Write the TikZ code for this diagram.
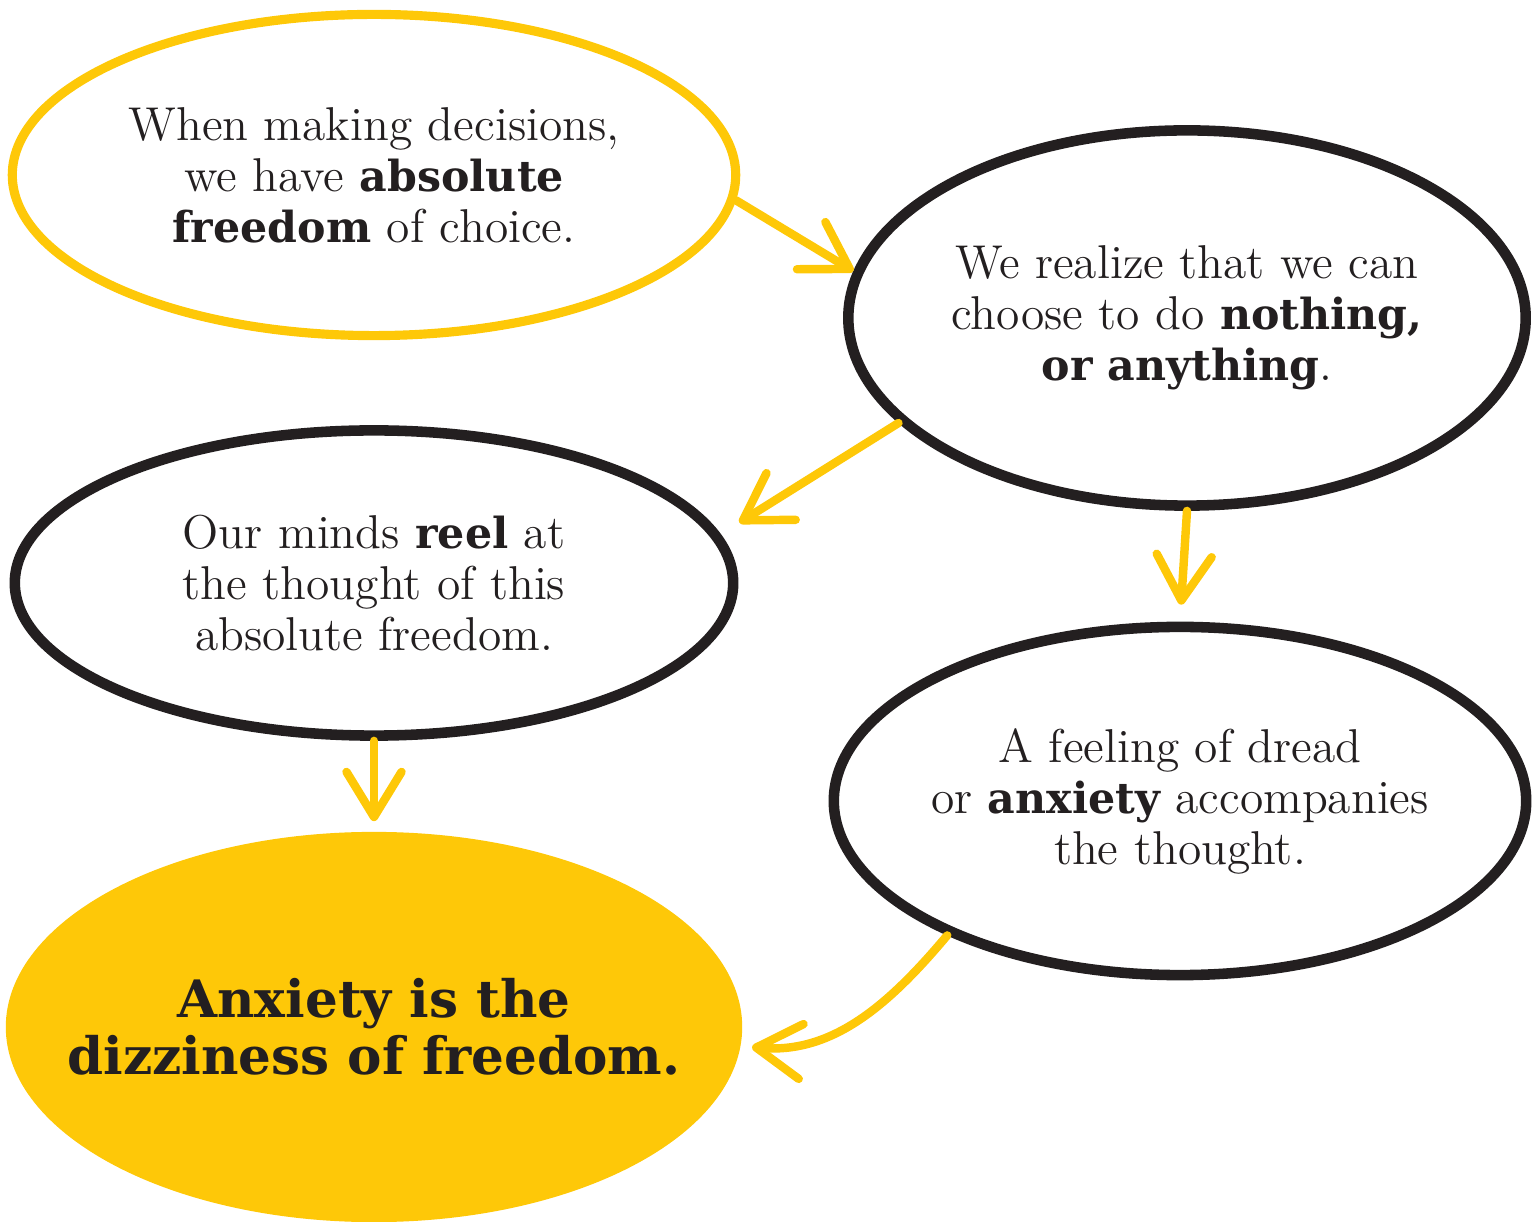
\documentclass[tikz,border=0pt]{standalone}
\usepackage{fontspec}
\newfontfamily\slab{DejaVu Serif}[Scale=0.9]
\usetikzlibrary{arrows.meta,shapes.geometric}
\definecolor{ink}{RGB}{35,31,32}
\definecolor{gold}{RGB}{254,200,8}
\newcommand{\hv}[1]{{\slab\bfseries #1}}

\begin{document}
\begin{tikzpicture}[
    x=0.01cm,y=-0.01cm,
    every node/.style={font=\fontsize{13.5}{14.5}\selectfont,text=ink,align=center,inner sep=0pt},
    bubble/.style={ellipse,draw=ink,line width=3pt},
    goldbubble/.style={ellipse,draw=gold,line width=2.6pt},
    answer/.style={ellipse,fill=gold},
    arrow/.style={draw=gold,line width=2.4pt,line cap=round,-{Straight Barb[length=4.5mm,width=5.5mm,round]}}
]
\useasboundingbox (0,0) rectangle (1536,1222);
% bubbles
\node[goldbubble,minimum width=7.23cm,minimum height=3.21cm] (choice) at (374,175) {};
\node[bubble,minimum width=6.77cm,minimum height=3.75cm] (nothing) at (1187,318) {};
\node[bubble,minimum width=7.18cm,minimum height=3.05cm] (reel) at (374,583) {};
\node[bubble,minimum width=6.92cm,minimum height=3.48cm] (dread) at (1180,801) {};
\node[answer,minimum width=7.36cm,minimum height=3.9cm] (dizzy) at (374,1027) {};
% texts
\node at (choice) {When making decisions,\\we have \hv{absolute}\\\hv{freedom} of choice.};
\node at (nothing) {We realize that we can\\choose to do \hv{nothing,}\\\hv{or anything}.};
\node at (reel) {Our minds \hv{reel} at\\the thought of this\\absolute freedom.};
\node at (dread) {A feeling of dread\\or \hv{anxiety} accompanies\\the thought.};
\node[font=\slab\bfseries\fontsize{16.3}{16.2}\selectfont] at (dizzy) {Anxiety is the\\dizziness of freedom.};
% arrows
\draw[arrow] (choice.-4) -- (nothing.172);
\draw[arrow,shorten >=0.22cm] (nothing.200) -- (reel.8);
\draw[arrow,shorten >=0.17cm] (nothing.south) -- (dread.north);
\draw[arrow,shorten >=0.1cm] (reel.south) -- (dizzy.north);
\draw[arrow,shorten >=0.11cm] (dread.210) to[out=-130,in=-5] (dizzy.-3);
\end{tikzpicture}
\end{document}
